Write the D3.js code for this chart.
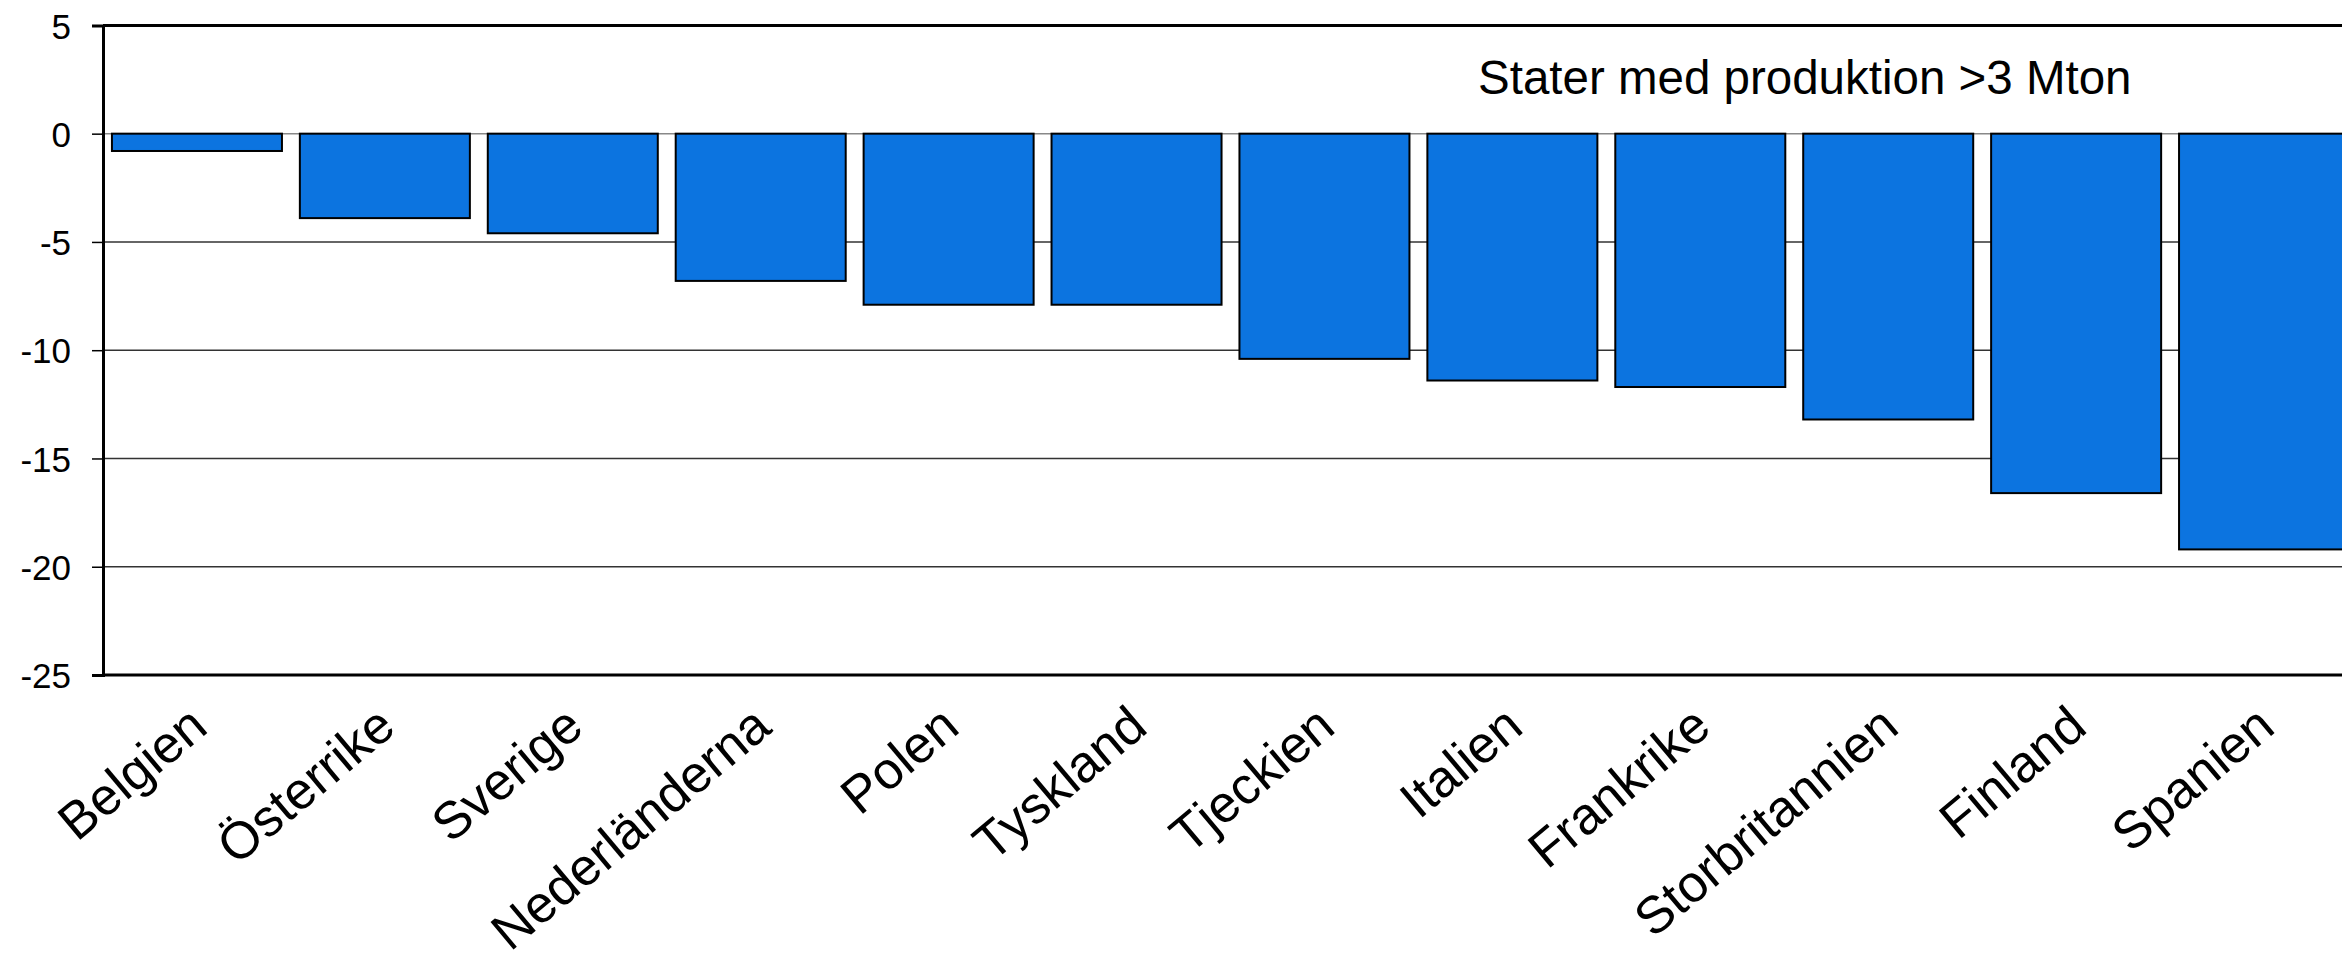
<!DOCTYPE html>
<html>
<head>
<meta charset="utf-8">
<script src="https://cdn.jsdelivr.net/npm/d3@7/dist/d3.min.js"></script>
<style>
  html, body { margin: 0; padding: 0; background: #fff; overflow: hidden; }
  svg { display: block; }
  text { font-family: "Liberation Sans", Arial, sans-serif; fill: #000; }
</style>
</head>
<body>
<script>
const categories = ["Belgien", "Österrike", "Sverige", "Nederländerna", "Polen", "Tyskland",
                    "Tjeckien", "Italien", "Frankrike", "Storbritannien", "Finland", "Spanien"];
const values = [-0.8, -3.9, -4.6, -6.8, -7.9, -7.9, -10.4, -11.4, -11.7, -13.2, -16.6, -19.2];
const yTickValues = [5, 0, -5, -10, -15, -20, -25];
const yTickLabels = ["5", "0", "-5", "-10", "-15", "-20", "-25"];
const titleText = "Stater med produktion >3 Mton";

const W = 2342, H = 954;

const svg = d3.select("body").append("svg").attr("width", W).attr("height", H);
const g = svg.append("g");

const axisX = 103;
const plotRight = 2358;
const x = d3.scaleBand().domain(categories)
  .range([axisX, plotRight]).paddingInner(0.0953).paddingOuter(0.0476);
const y = d3.scaleLinear().domain([-25, 5]).range([675, 25.4]);

// gridlines
g.append("g").selectAll("line").data(yTickValues.filter(v => v !== 5 && v !== -25))
  .join("line")
  .attr("x1", axisX).attr("x2", W + 10)
  .attr("y1", d => y(d)).attr("y2", d => y(d))
  .attr("stroke", d => d === 0 ? "#888" : "#333").attr("stroke-width", 1.5);

// bars
g.append("g").selectAll("rect").data(values).join("rect")
  .attr("x", (d, i) => x(categories[i]))
  .attr("width", x.bandwidth())
  .attr("y", d => y(Math.max(0, d)))
  .attr("height", d => Math.abs(y(d) - y(0)))
  .attr("fill", "#0c74e0")
  .attr("stroke", "#000").attr("stroke-width", 2);

// frame: top and bottom
g.append("line").attr("x1", axisX).attr("x2", W + 10)
  .attr("y1", y(5)).attr("y2", y(5)).attr("stroke", "#000").attr("stroke-width", 3);
g.append("line").attr("x1", axisX).attr("x2", W + 10)
  .attr("y1", y(-25)).attr("y2", y(-25)).attr("stroke", "#000").attr("stroke-width", 3);

// y axis
const yAxis = d3.axisLeft(y).tickValues(yTickValues)
  .tickFormat((d, i) => yTickLabels[i])
  .tickSize(11).tickPadding(21);
const ya = g.append("g").attr("transform", `translate(${axisX},0)`).call(yAxis);
ya.select(".domain").attr("stroke", "#000").attr("stroke-width", 3);
ya.selectAll(".tick line").attr("stroke", "#000").attr("stroke-width", 1.5);
ya.selectAll(".tick text").attr("font-size", 35).attr("font-family", "Liberation Sans, Arial, sans-serif")
  .attr("fill", "#000").attr("dy", "0.36em");

// x axis category labels
const xAxis = d3.axisBottom(x).tickSize(0).tickPadding(0);
const xa = g.append("g").attr("transform", `translate(0,${y(-25)})`).call(xAxis);
xa.select(".domain").remove();
xa.selectAll(".tick text")
  .attr("font-size", 52).attr("font-family", "Liberation Sans, Arial, sans-serif").attr("fill", "#000")
  .attr("text-anchor", "end")
  .attr("dy", null)
  .attr("transform", "translate(13,56) rotate(-40)")
  .attr("y", 0).attr("x", 0);

// title
g.append("text").attr("x", 1478).attr("y", 94)
  .attr("font-size", 47.5).text(titleText);
</script>
</body>
</html>
